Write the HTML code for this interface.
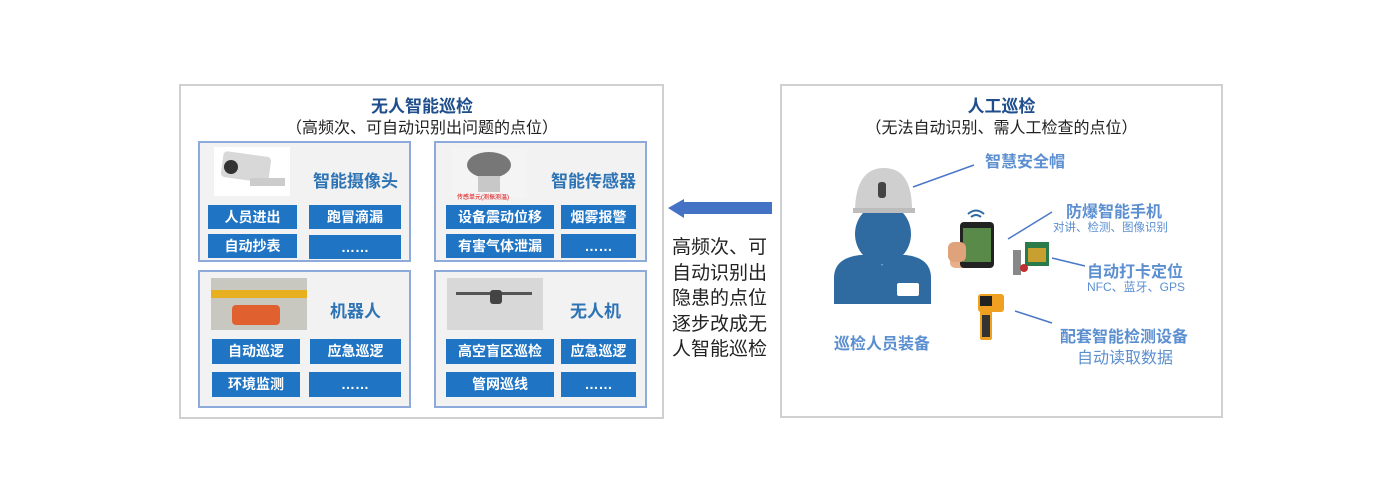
<!DOCTYPE html>
<html><head><meta charset="utf-8"><style>
*{margin:0;padding:0;box-sizing:border-box}
body{width:1400px;height:500px;background:#fff;position:relative;overflow:hidden;font-family:"Liberation Sans","Noto Sans CJK SC",sans-serif}
.a{position:absolute}
.box{position:absolute;border:2px solid #d0d0d0}
.sub{position:absolute;background:#f2f2f2;border:2px solid #8eaadb}
.lb{position:absolute;background:#1f74c4;color:#fff;font-weight:bold;font-size:14px;text-align:center;line-height:24px;height:24px}
.hd{position:absolute;color:#2e74b5;font-weight:bold;font-size:17px;white-space:nowrap}
.t{position:absolute;white-space:nowrap;text-align:center}
.lt{position:absolute;white-space:nowrap;color:#5b8fd0}
</style></head><body>
<div class="box" style="left:179px;top:84px;width:485px;height:335px;background:#fff"></div>
<div class="t" style="left:180px;width:484px;top:92px;font-size:17px;font-weight:bold;color:#1f4e8c">无人智能巡检</div>
<div class="t" style="left:180px;width:484px;top:114px;font-size:16px;color:#222">（高频次、可自动识别出问题的点位）</div>

<div class="sub" style="left:198px;top:141px;width:213px;height:121px"></div>
<div class="sub" style="left:434px;top:141px;width:213px;height:121px"></div>
<div class="sub" style="left:198px;top:270px;width:213px;height:138px"></div>
<div class="sub" style="left:434px;top:270px;width:213px;height:138px"></div>

<div class="a" style="left:214px;top:147px;width:76px;height:49px;background:#fff"></div>
<div class="a" style="left:222px;top:154px;width:48px;height:26px;background:#d8d8d8;border-radius:4px;transform:rotate(8deg)"></div>
<div class="a" style="left:224px;top:160px;width:14px;height:14px;background:#333;border-radius:50%"></div>
<div class="a" style="left:250px;top:178px;width:35px;height:8px;background:#ccc"></div>
<div class="a" style="left:452px;top:148px;width:75px;height:50px;background:#f4f4f4"></div>
<div class="a" style="left:467px;top:152px;width:44px;height:26px;background:#777;border-radius:50%"></div>
<div class="a" style="left:478px;top:176px;width:22px;height:16px;background:#c8c8c8"></div>
<div class="a" style="left:457px;top:192px;font-size:6px;color:#d00">传感单元(测振测温)</div>
<div class="a" style="left:211px;top:278px;width:96px;height:52px;background:#c8c8c0"></div>
<div class="a" style="left:211px;top:290px;width:96px;height:8px;background:#e8b020"></div>
<div class="a" style="left:232px;top:305px;width:48px;height:20px;background:#e06030;border-radius:4px"></div>
<div class="a" style="left:447px;top:278px;width:96px;height:52px;background:#d8d8d8"></div>
<div class="a" style="left:456px;top:292px;width:76px;height:3px;background:#555"></div>
<div class="a" style="left:490px;top:290px;width:12px;height:14px;background:#444;border-radius:3px"></div>

<div class="hd" style="left:313px;top:167px">智能摄像头</div>
<div class="hd" style="left:551px;top:167px">智能传感器</div>
<div class="hd" style="left:330px;top:297px">机器人</div>
<div class="hd" style="left:570px;top:297px">无人机</div>

<div class="lb" style="left:208px;top:205px;width:89px">人员进出</div>
<div class="lb" style="left:309px;top:205px;width:92px">跑冒滴漏</div>
<div class="lb" style="left:208px;top:234px;width:89px">自动抄表</div>
<div class="lb" style="left:309px;top:235px;width:92px">……</div>
<div class="lb" style="left:446px;top:205px;width:108px">设备震动位移</div>
<div class="lb" style="left:561px;top:205px;width:75px">烟雾报警</div>
<div class="lb" style="left:446px;top:234px;width:108px">有害气体泄漏</div>
<div class="lb" style="left:561px;top:234px;width:75px">……</div>
<div class="lb" style="left:212px;top:339px;width:88px;height:25px">自动巡逻</div>
<div class="lb" style="left:310px;top:339px;width:91px;height:25px">应急巡逻</div>
<div class="lb" style="left:212px;top:372px;width:88px;height:25px">环境监测</div>
<div class="lb" style="left:309px;top:372px;width:92px;height:25px">……</div>
<div class="lb" style="left:446px;top:339px;width:108px;height:25px">高空盲区巡检</div>
<div class="lb" style="left:561px;top:339px;width:75px;height:25px">应急巡逻</div>
<div class="lb" style="left:446px;top:372px;width:108px;height:25px">管网巡线</div>
<div class="lb" style="left:561px;top:372px;width:75px;height:25px">……</div>

<svg class="a" style="left:660px;top:190px" width="120" height="40">
<polygon points="8,18 24,9 24,12 112,12 112,24 24,24 24,28" fill="#4472c4"/>
</svg>
<div class="a" style="left:672px;top:235px;font-size:19px;line-height:25.5px;color:#222;width:100px">高频次、可<br>自动识别出<br>隐患的点位<br>逐步改成无<br>人智能巡检</div>

<div class="box" style="left:780px;top:84px;width:443px;height:334px;background:#fff"></div>
<div class="t" style="left:781px;width:441px;top:92px;font-size:17px;font-weight:bold;color:#1f4e8c">人工巡检</div>
<div class="t" style="left:781px;width:441px;top:114px;font-size:16px;color:#222">（无法自动识别、需人工检查的点位）</div>

<svg class="a" style="left:820px;top:150px" width="400" height="220">
<path d="M14,154 L14,128 Q14,108 40,105 L86,105 Q111,108 111,128 L111,154 Z" fill="#2f6aa0"/>
<polygon points="55,105 70,105 62,116" fill="#fff" opacity="0.35"/>
<ellipse cx="63" cy="84" rx="28" ry="30" fill="#2f6aa0"/>
<rect x="50" y="98" width="26" height="10" fill="#2f6aa0"/>
<rect x="77" y="133" width="22" height="13" rx="2" fill="#fff"/>
<path d="M35,60 Q36,18 64,18 Q92,18 92,60 Z" fill="#cfcfcf"/>
<rect x="33" y="58" width="62" height="5" fill="#bdbdbd"/>
<rect x="58" y="32" width="8" height="16" rx="3" fill="#444"/>
<line x1="93" y1="37" x2="154" y2="15" stroke="#4a78c8" stroke-width="1.5"/>
<line x1="188" y1="89" x2="232" y2="62" stroke="#4a78c8" stroke-width="1.5"/>
<line x1="232" y1="108" x2="265" y2="116" stroke="#4a78c8" stroke-width="1.5"/>
<line x1="195" y1="161" x2="232" y2="173" stroke="#4a78c8" stroke-width="1.5"/>
<path d="M148,64 Q156,57 164,64" stroke="#2f6aa0" stroke-width="2" fill="none"/>
<path d="M151,67 Q156,63 161,67" stroke="#2f6aa0" stroke-width="2" fill="none"/>
<rect x="130" y="106" width="30" height="12" rx="5" fill="#e8b08a"/>
<rect x="140" y="72" width="34" height="46" rx="4" fill="#222"/>
<rect x="143" y="78" width="28" height="34" fill="#5a8a4a"/>
<rect x="128" y="92" width="18" height="20" rx="6" fill="#e0a27a"/>
<rect x="193" y="100" width="8" height="25" fill="#888"/>
<rect x="205" y="92" width="24" height="24" fill="#2a7a4a"/>
<rect x="208" y="98" width="18" height="14" fill="#c8a030"/>
<circle cx="204" cy="118" r="4" fill="#c03030"/>
<rect x="158" y="144" width="26" height="18" rx="3" fill="#f0a020"/>
<rect x="160" y="146" width="12" height="10" fill="#222"/>
<rect x="160" y="160" width="12" height="30" rx="2" fill="#f0a020"/>
<rect x="162" y="165" width="8" height="22" fill="#333"/>
</svg>

<div class="a" style="left:985px;top:148px;font-size:16px;font-weight:bold;color:#5b8fd0">智慧安全帽</div>
<div class="a" style="left:1066px;top:198px;font-size:16px;font-weight:bold;color:#5b8fd0">防爆智能手机</div>
<div class="lt" style="left:1053px;top:219px;font-size:11.5px">对讲、检测、图像识别</div>
<div class="a" style="left:1087px;top:258px;font-size:16px;font-weight:bold;color:#5b8fd0">自动打卡定位</div>
<div class="lt" style="left:1087px;top:278px;font-size:12px">NFC、蓝牙、GPS</div>
<div class="a" style="left:1060px;top:323px;font-size:16px;font-weight:bold;color:#5b8fd0">配套智能检测设备</div>
<div class="lt" style="left:1077px;top:344px;font-size:16px">自动读取数据</div>
<div class="a" style="left:834px;top:330px;font-size:16px;font-weight:bold;color:#5b8fd0">巡检人员装备</div>
</body></html>
